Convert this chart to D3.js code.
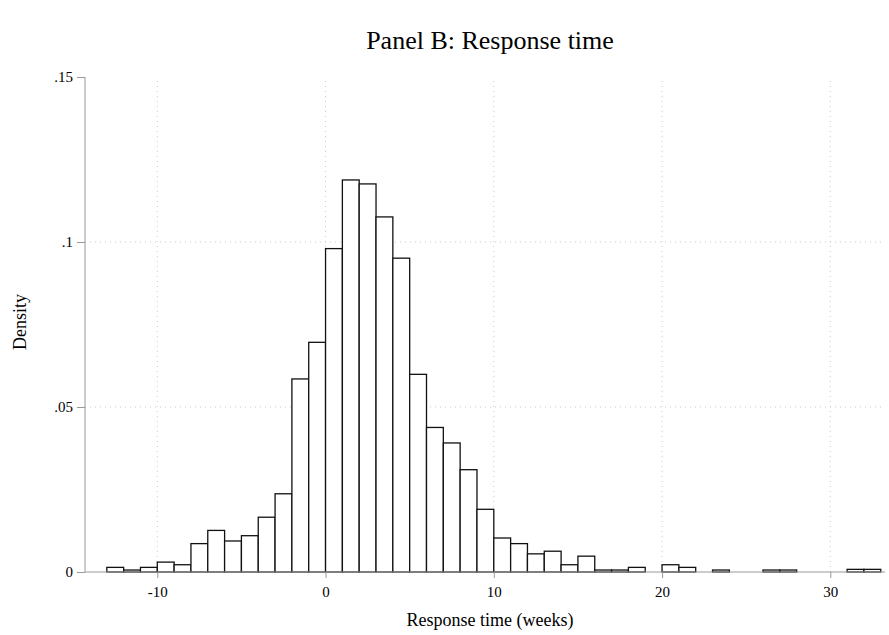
<!DOCTYPE html>
<html><head><meta charset="utf-8">
<script src="https://cdn.jsdelivr.net/npm/d3@7"></script>
<style>body{margin:0;background:#fff}text{font-family:"Liberation Serif","DejaVu Serif",serif}</style>
</head><body>
<script>
// bins are one week wide, starting at these left edges
var binStarts = [-13,-12,-11,-10,-9,-8,-7,-6,-5,-4,-3,-2,-1,0,1,2,3,4,5,6,7,8,9,10,11,12,13,14,15,16,17,18,20,21,23,26,27,31,32]
var density = [.0014,.0006,.0014,.003,.0022,.0086,.0126,.0094,.011,.0166,.0237,.0585,.0696,.098,.1188,.1176,.1076,.0951,.0599,.0438,.0391,.031,.019,.0103,.0086,.0055,.0063,.0022,.0048,.0006,.0006,.0014,.0022,.0014,.0006,.0006,.0006,.0008,.0008]
var xTicks = [-10,0,10,20,30]
var yTicks = [0,.05,.1,.15]
var yLabels = ["0",".05",".1",".15"]

var W = 889, H = 635
var svg = d3.select("body").append("svg").attr("width", W).attr("height", H)
var x = d3.scaleLinear().domain([-10,30]).range([157.3,830.3])
var y = d3.scaleLinear().domain([0,.15]).range([572,77])
var left = 85, right = 885

// dotted grid
svg.selectAll(".gx").data(xTicks).enter().append("line")
  .attr("x1", d => x(d)).attr("x2", d => x(d)).attr("y1", 572).attr("y2", 77)
  .attr("stroke", "#ccc").attr("stroke-dasharray", "1,4")
svg.selectAll(".gy").data([.05,.1]).enter().append("line")
  .attr("x1", left).attr("x2", right).attr("y1", d => y(d)).attr("y2", d => y(d))
  .attr("stroke", "#ccc").attr("stroke-dasharray", "1,4")

// bars
svg.selectAll("rect").data(binStarts).enter().append("rect")
  .attr("x", d => x(d)).attr("width", x(1) - x(0))
  .attr("y", (d, i) => y(density[i])).attr("height", (d, i) => 572 - y(density[i]))
  .attr("fill", "#fff").attr("stroke", "#111").attr("stroke-width", 1.3)

// axes
var xa = svg.append("g").attr("transform", "translate(0,572)")
  .call(d3.axisBottom(x).tickValues(xTicks).tickSize(6).tickPadding(8).tickFormat(d => String(d)))
xa.select(".domain").remove()
xa.append("line").attr("x1", left).attr("x2", right).attr("stroke", "#999")
var ya = svg.append("g").attr("transform", "translate(" + left + ",0)")
  .call(d3.axisLeft(y).tickValues(yTicks).tickSize(8).tickPadding(4).tickFormat((d, i) => yLabels[i]))
ya.select(".domain").attr("stroke", "#999").attr("d", "M0,572V77")
svg.selectAll(".tick line").attr("stroke", "#999")
svg.selectAll(".tick text").attr("fill", "#000").style("font-size", "15px").style("font-family", "Liberation Serif")

svg.append("text").attr("x", 490).attr("y", 49).attr("text-anchor", "middle")
  .style("font-size", "26px").text("Panel B: Response time")
svg.append("text").attr("x", 490).attr("y", 626).attr("text-anchor", "middle")
  .style("font-size", "18px").text("Response time (weeks)")
svg.append("text").attr("transform", "translate(26,322) rotate(-90)").attr("text-anchor", "middle")
  .style("font-size", "18px").text("Density")
</script>
</body></html>
